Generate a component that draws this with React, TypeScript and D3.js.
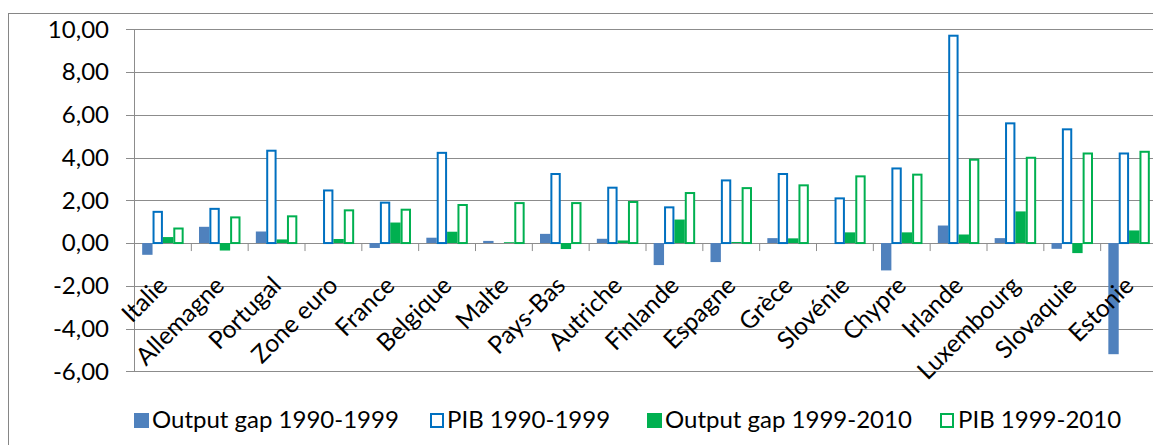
import React from "react";
import * as d3 from "d3";

const categories = ["Italie", "Allemagne", "Portugal", "Zone euro", "France", "Belgique", "Malte", "Pays-Bas", "Autriche", "Finlande", "Espagne", "Grèce", "Slovénie", "Chypre", "Irlande", "Luxembourg", "Slovaquie", "Estonie"];
const gap9099 = [-0.55, 0.76, 0.54, 0.0, -0.23, 0.25, 0.1, 0.43, 0.2, -1.03, -0.89, 0.23, 0.0, -1.28, 0.82, 0.23, -0.27, -5.2];
const pib9099 = [1.46, 1.6, 4.32, 2.46, 1.89, 4.22, 0.0, 3.23, 2.59, 1.67, 2.93, 3.23, 2.09, 3.49, 9.7, 5.6, 5.32, 4.19];
const gap9910 = [0.28, -0.35, 0.17, 0.19, 0.96, 0.53, 0.04, -0.28, 0.12, 1.1, 0.05, 0.22, 0.5, 0.5, 0.4, 1.48, -0.47, 0.59];
const pib9910 = [0.68, 1.2, 1.25, 1.53, 1.56, 1.78, 1.87, 1.87, 1.92, 2.34, 2.57, 2.7, 3.12, 3.2, 3.9, 3.99, 4.19, 4.27];
const seriesNames = ["Output gap 1990-1999", "PIB 1990-1999", "Output gap 1999-2010", "PIB 1999-2010"];
const yTicks = [-6, -4, -2, 0, 2, 4, 6, 8, 10];

const series = [
  { name: seriesNames[0], values: gap9099, fill: "#4F81BD", stroke: "none" },
  { name: seriesNames[1], values: pib9099, fill: "#FFFFFF", stroke: "#0070C0" },
  { name: seriesNames[2], values: gap9910, fill: "#00B050", stroke: "none" },
  { name: seriesNames[3], values: pib9910, fill: "#FFFFFF", stroke: "#00B050" },
];

const FONT = "Lato, 'Open Sans', sans-serif";

export default function App() {
  const left = 134.5, right = 1157.5, top = 29.3, bottom = 371.3;
  const x = d3.scaleBand<string>().domain(categories).range([left, right]).padding(0);
  const bw = x.bandwidth();
  const inner = d3.scaleBand<number>().domain([0, 1, 2, 3]).range([bw * 0.135, bw * 0.865]).padding(0);
  const y = d3.scaleLinear().domain([-6, 10]).range([bottom, top]);
  const y0 = y(0);
  const fmt = (v: number) => v.toFixed(2).replace(".", ",");
  const grid = "#8C8C8C";

  const legendItems = [
    { x: 134, tx: 152 },
    { x: 430, tx: 447 },
    { x: 647, tx: 665 },
    { x: 940, tx: 958 },
  ];

  return (
    <svg width={1153} height={445} style={{ position: "absolute", left: 0, top: 0, background: "#fff" }}>
      <rect x={8.5} y={13.5} width={1160} height={450} fill="#fff" stroke="#868686" strokeWidth={1} />
      {yTicks.map((t) => (
        <g key={t}>
          <line x1={126} x2={right} y1={Math.round(y(t)) + 0.5} y2={Math.round(y(t)) + 0.5} stroke={grid} strokeWidth={1} />
          <text x={109} y={y(t)} dy="0.35em" textAnchor="end" fontFamily={FONT} fontSize={24} fill="#000">
            {fmt(t)}
          </text>
        </g>
      ))}
      <line x1={left} x2={left} y1={top} y2={bottom} stroke={grid} strokeWidth={1} />
      {categories.map((c, i) => (
        <line key={"tk" + i} x1={x(c)!} x2={x(c)!} y1={y0} y2={y0 + 8} stroke={grid} strokeWidth={1} />
      ))}
      {series.map((s, si) =>
        s.values.map((v, i) => {
          const c = categories[i];
          const bx = x(c)! + inner(si)!;
          const w = inner.bandwidth();
          const y1 = Math.min(y(v), y0);
          const h = Math.abs(y(v) - y0);
          if (s.stroke === "none") {
            return <rect key={si + "-" + i} x={bx} y={y1} width={w} height={h} fill={s.fill} />;
          }
          if (v === 0) return null;
          return (
            <rect key={si + "-" + i} x={bx + 1} y={y1} width={w - 2} height={h} fill={s.fill} stroke={s.stroke} strokeWidth={2} />
          );
        })
      )}
      {categories.map((c, i) => {
        const cx = x(c)! + bw / 2 + 6;
        const cy = 287;
        return (
          <text key={"lb" + i} transform={`translate(${cx},${cy}) rotate(-45)`} textAnchor="end" fontFamily={FONT} fontSize={24.5} fill="#000">
            {c}
          </text>
        );
      })}
      {series.map((s, si) => (
        <g key={"lg" + si}>
          {s.stroke === "none" ? (
            <rect x={legendItems[si].x} y={413} width={15} height={15} fill={s.fill} />
          ) : (
            <rect x={legendItems[si].x + 1} y={414} width={12} height={13} fill="#fff" stroke={s.stroke} strokeWidth={2} />
          )}
          <text x={legendItems[si].tx} y={420} dy="0.35em" fontFamily={FONT} fontSize={24} fill="#000">
            {s.name}
          </text>
        </g>
      ))}
    </svg>
  );
}
